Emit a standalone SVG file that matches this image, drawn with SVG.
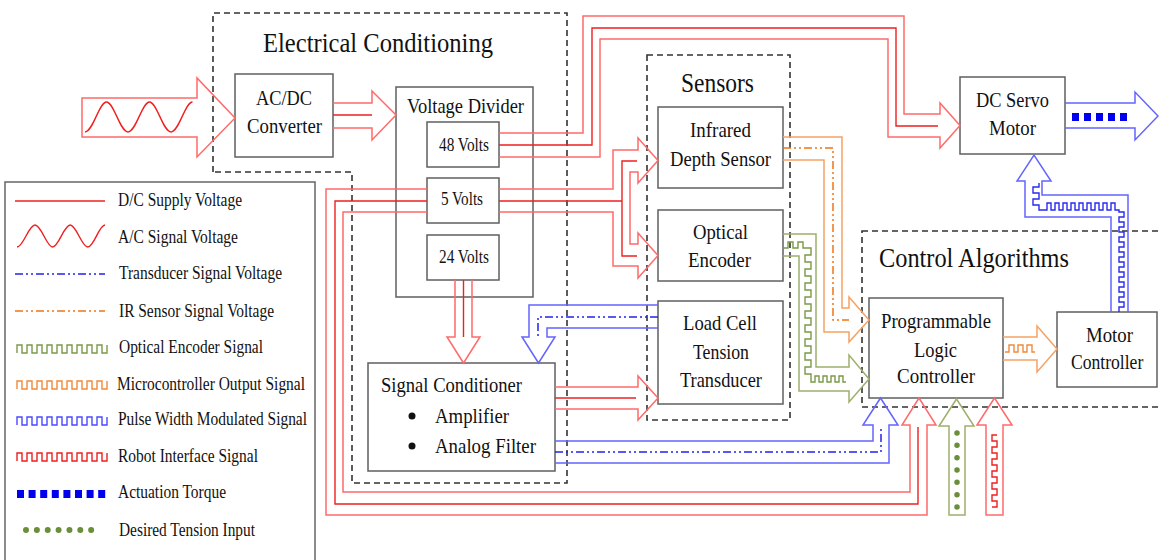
<svg xmlns="http://www.w3.org/2000/svg" xmlns:xlink="http://www.w3.org/1999/xlink" width="1159" height="560" viewBox="0 0 1159 560">
<style>
.box{fill:#fff;stroke:#5f5f5f;stroke-width:1.5}
.dash{fill:none;stroke:#333;stroke-width:1.6;stroke-dasharray:6 4}
.t{font-family:"Liberation Serif","Times New Roman",serif;fill:#111}
.n{font-size:22px}
.v{font-size:19px}
.h{font-size:28px}
.l{font-size:18.5px}
.ro{fill:none;stroke:#ff6a6a;stroke-width:1.5}
.ri{fill:none;stroke:#ee2020;stroke-width:1.4}
.oo{fill:none;stroke:#f5a263;stroke-width:1.5}
.od{fill:none;stroke:#ef7417;stroke-width:1.5;stroke-dasharray:8 3 2 3 2 3}
.oi{fill:none;stroke:#ef8a3a;stroke-width:1.4}
.go{fill:none;stroke:#9db06d;stroke-width:1.5}
.gi{fill:none;stroke:#7a9a48;stroke-width:1.4}
.bo{fill:none;stroke:#6464ff;stroke-width:1.5}
.bi{fill:none;stroke:#2a2af0;stroke-width:1.4}
.bd{fill:none;stroke:#2323ee;stroke-width:1.5;stroke-dasharray:8 3 2 3 2 3}
</style>
<defs>
<path id="sq" fill="none" stroke-width="1.4" d="M0,8 V0 H5 V8 H10 V0 H15 V8 H20 V0 H25 V8 H30 V0 H35 V8 H40 V0 H45 V8 H50 V0 H55 V8 H60 V0 H65 V8 H70 V0 H75 V8 H80 V0 H85 V8 H90 V0"/>
</defs>
<rect width="1159" height="560" fill="#fff"/>

<g id="containers">
<path class="dash" d="M213,172 V13 H567 V483 H352 V172 Z"/>
<text class="t h" x="263" y="52" textLength="230" lengthAdjust="spacingAndGlyphs">Electrical Conditioning</text>
<rect class="dash" x="647" y="55" width="143" height="365"/>
<text class="t" font-size="27" x="681" y="92" textLength="73" lengthAdjust="spacingAndGlyphs">Sensors</text>
<rect class="dash" x="862" y="231" width="320" height="176"/>
<text class="t h" x="879" y="267" textLength="190" lengthAdjust="spacingAndGlyphs">Control Algorithms</text>
</g>

<g id="ac-dc-converter">
<rect class="box" x="235" y="74" width="98" height="83"/>
<text class="t n" x="256" y="105" textLength="56" lengthAdjust="spacingAndGlyphs">AC/DC</text>
<text class="t n" x="247" y="133" textLength="75" lengthAdjust="spacingAndGlyphs">Converter</text>
</g>
<g id="voltage-divider">
<rect class="box" x="396" y="87" width="137" height="210"/>
<text class="t n" x="407" y="113" textLength="117" lengthAdjust="spacingAndGlyphs">Voltage Divider</text>
</g>
<g id="v48">
<rect class="box" x="427" y="122" width="72" height="45"/>
<text class="t v" x="439" y="151" textLength="50" lengthAdjust="spacingAndGlyphs">48 Volts</text>
</g>
<g id="v5">
<rect class="box" x="427" y="178" width="72" height="45"/>
<text class="t v" x="441" y="205" textLength="42" lengthAdjust="spacingAndGlyphs">5 Volts</text>
</g>
<g id="v24">
<rect class="box" x="427" y="235" width="72" height="45"/>
<text class="t v" x="439" y="263" textLength="50" lengthAdjust="spacingAndGlyphs">24 Volts</text>
</g>
<g id="signal-conditioner">
<rect class="box" x="368" y="363" width="187" height="108"/>
<text class="t n" x="381" y="392" textLength="141" lengthAdjust="spacingAndGlyphs">Signal Conditioner</text>
<circle cx="412" cy="416" r="3.5" fill="#111"/>
<circle cx="412" cy="446" r="3.5" fill="#111"/>
<text class="t n" x="435" y="423" textLength="74" lengthAdjust="spacingAndGlyphs">Amplifier</text>
<text class="t n" x="435" y="453" textLength="101" lengthAdjust="spacingAndGlyphs">Analog Filter</text>
</g>
<g id="infrared-depth-sensor">
<rect class="box" x="658" y="107" width="125" height="81"/>
<text class="t n" x="690" y="137" textLength="61" lengthAdjust="spacingAndGlyphs">Infrared</text>
<text class="t n" x="670" y="166" textLength="101" lengthAdjust="spacingAndGlyphs">Depth Sensor</text>
</g>
<g id="optical-encoder">
<rect class="box" x="658" y="210" width="125" height="71"/>
<text class="t n" x="693" y="239" textLength="55" lengthAdjust="spacingAndGlyphs">Optical</text>
<text class="t n" x="688" y="267" textLength="63" lengthAdjust="spacingAndGlyphs">Encoder</text>
</g>
<g id="load-cell">
<rect class="box" x="658" y="301" width="125" height="103"/>
<text class="t n" x="683" y="330" textLength="74" lengthAdjust="spacingAndGlyphs">Load Cell</text>
<text class="t n" x="693" y="359" textLength="56" lengthAdjust="spacingAndGlyphs">Tension</text>
<text class="t n" x="680" y="387" textLength="82" lengthAdjust="spacingAndGlyphs">Transducer</text>
</g>
<g id="dc-servo-motor">
<rect class="box" x="960" y="77" width="105" height="77"/>
<text class="t n" x="976" y="107" textLength="73" lengthAdjust="spacingAndGlyphs">DC Servo</text>
<text class="t n" x="989" y="135" textLength="47" lengthAdjust="spacingAndGlyphs">Motor</text>
</g>
<g id="plc">
<rect class="box" x="869" y="298" width="134" height="100"/>
<text class="t n" x="881" y="328" textLength="110" lengthAdjust="spacingAndGlyphs">Programmable</text>
<text class="t n" x="914" y="357" textLength="43" lengthAdjust="spacingAndGlyphs">Logic</text>
<text class="t n" x="897" y="383" textLength="78" lengthAdjust="spacingAndGlyphs">Controller</text>
</g>
<g id="motor-controller">
<rect class="box" x="1057" y="312" width="100" height="75"/>
<text class="t n" x="1086" y="342" textLength="47" lengthAdjust="spacingAndGlyphs">Motor</text>
<text class="t n" transform="translate(1071 369) scale(0.8 1)">Controller</text>
</g>

<g id="legend">
<rect x="5" y="182" width="310" height="390" fill="#fff" stroke="#666" stroke-width="1.5"/>
<path class="ri" d="M15,201 H105"/>
<path class="ri" d="M17,247 C23.4,247 28.6,225 35,225 S46.6,247 52.6,247 S64,225 70.2,225 S81.6,247 87.8,247 S99,225 105,225"/>
<path class="bd" d="M15,274 H105"/>
<path class="od" d="M15,311 H105"/>
<use xlink:href="#sq" x="17" y="345" stroke="#7a9a48"/>
<use xlink:href="#sq" x="17" y="381" stroke="#ef8a3a"/>
<use xlink:href="#sq" x="17" y="417" stroke="#4a4aff"/>
<use xlink:href="#sq" x="17" y="453" stroke="#ee2020"/>
<path d="M17,494 H107" stroke="#0000ee" stroke-width="8" stroke-dasharray="7 4.6" fill="none"/>
<path d="M26,530 H102" stroke="#6b8e3a" stroke-width="6" stroke-linecap="round" stroke-dasharray="0 10.86" fill="none"/>
<text class="t l" x="118" y="206" textLength="124" lengthAdjust="spacingAndGlyphs">D/C Supply Voltage</text>
<text class="t l" x="118" y="243" textLength="120" lengthAdjust="spacingAndGlyphs">A/C Signal Voltage</text>
<text class="t l" x="119" y="279" textLength="163" lengthAdjust="spacingAndGlyphs">Transducer Signal Voltage</text>
<text class="t l" x="119" y="317" textLength="155" lengthAdjust="spacingAndGlyphs">IR Sensor Signal Voltage</text>
<text class="t l" x="119" y="353" textLength="144" lengthAdjust="spacingAndGlyphs">Optical Encoder Signal</text>
<text class="t l" x="117" y="390" textLength="188" lengthAdjust="spacingAndGlyphs">Microcontroller Output Signal</text>
<text class="t l" x="118" y="425" textLength="189" lengthAdjust="spacingAndGlyphs">Pulse Width Modulated Signal</text>
<text class="t l" x="118" y="462" textLength="140" lengthAdjust="spacingAndGlyphs">Robot Interface Signal</text>
<text class="t l" x="118" y="498" textLength="108" lengthAdjust="spacingAndGlyphs">Actuation Torque</text>
<text class="t l" x="119" y="536" textLength="136" lengthAdjust="spacingAndGlyphs">Desired Tension Input</text>
</g>

<g id="connectors">
<!-- AC input -->
<path class="ro" d="M82,98 H197 V78 L235,118 L197,157 V137 H82 Z"/>
<path class="ri" d="M85,132 C93,132 99,102 106.5,102 S120,132 128,132 S142,102 149.5,102 S163,132 171,132 S185,102 192.5,102"/>
<!-- AC/DC to Voltage Divider -->
<path class="ro" d="M333,103 H372 V91 L396,115 L372,140 V128 H333"/>
<path class="ri" d="M333,115 H372"/>
<!-- 48V to DC Servo -->
<path class="ro" d="M499,133 H583 V16 H904 V114 H940 V103 L960,125.5 L940,148 V137 H888 V39 H600 V157 H499"/>
<path class="ri" d="M499,145 H592 V28 H896 V126 H938"/>
<!-- 5V to sensors -->
<path class="ro" d="M499,189 H613 V150 H638 V138 L658,160.5 L638,183 V172 H630 V244 H638 V233 L658,255.5 L638,278 V266 H613 V212 H499"/>
<path class="ri" d="M499,201 H622 M637,161 H622 V256 H637"/>
<!-- 5V loop to PLC -->
<path class="ro" d="M427,189 H326 V515 H927 V425 H936 L919,398 L902,425 H910 V492 H343 V212 H427"/>
<path class="ri" d="M427,201 H335 V504 H918 V427"/>
<!-- 24V to Signal Conditioner -->
<path class="ro" d="M455,280 V337 H447 L463.5,363 L480,337 H472 V280"/>
<path class="ri" d="M463.5,280 V337"/>
<!-- Load cell to Signal Conditioner -->
<path class="bo" d="M658,305 H529 V337 H522 L538.5,363 L555,337 H547 V328 H658"/>
<path class="bd" d="M658,317 H538 V337"/>
<!-- Signal Conditioner to Load Cell -->
<path class="ro" d="M555,387 H638 V376 L658,398 L638,420 V409 H555"/>
<path class="ri" d="M555,398 H636"/>
<!-- Signal Conditioner to PLC -->
<path class="bo" d="M555,441 H873 V425 H863 L880.5,398 L898,425 H889 V463 H555"/>
<path class="bd" d="M555,452 H881 V427"/>
<!-- IR to PLC -->
<path class="oo" d="M783,137 H842 V308 H849 V297 L869,320 L849,342 V332 H824 V160 H783"/>
<path class="od" d="M783,148 H833 V320 H849"/>
<!-- Optical encoder to PLC -->
<path class="go" d="M783,234 H816 V367 H849 V355 L869,379 L849,402 V391 H799 V256 H783"/>
<path class="gi" d="M783,248 H788 V242 H793 V248 H798 V242 H803 V248 H811 V255 H805 V262 H811 V269 H805 V276 H811 V283 H805 V290 H811 V297 H805 V304 H811 V311 H805 V318 H811 V325 H805 V332 H811 V339 H805 V346 H811 V353 H805 V360 H811 V367 H805 V374 H811 V382 H815 V376 H819 V382 H823 V376 H827 V382 H831 V376 H835 V382 H839 V376 H843 V382 H846"/>
<!-- PLC to Motor Controller -->
<path class="oo" d="M1003,337 H1037 V326 L1057,349 L1037,372 V360 H1003"/>
<path class="oi" d="M1005,352 H1009 V345 H1014 V352 H1018 V345 H1023 V352 H1027 V345 H1032 V352 H1035"/>
<!-- Motor Controller to DC Servo -->
<path class="bo" d="M1111,312 V217 H1025 V181 H1017 L1034,155 L1051,181 H1042 V195 H1128 V312"/>
<path class="bi" d="M1119,312 V307 H1124 V302 H1119 V297 H1124 V292 H1119 V287 H1124 V282 H1119 V277 H1124 V272 H1119 V267 H1124 V262 H1119 V257 H1124 V252 H1119 V247 H1124 V242 H1119 V237 H1124 V232 H1119 V227 H1124 V222 H1119 V217 H1124 V212 H1119 V210 H1115 V203 H1111 V210 H1107 V203 H1103 V210 H1099 V203 H1095 V210 H1091 V203 H1087 V210 H1083 V203 H1079 V210 H1075 V203 H1071 V210 H1067 V203 H1063 V210 H1059 V203 H1055 V210 H1051 V203 H1047 V210 H1039 V205 H1033 V199 H1039 V193 H1033 V187 H1039 V183"/>
<!-- DC Servo output torque -->
<path class="bo" d="M1065,103 H1135 V92 L1158,116 L1135,140 V128 H1065"/>
<path d="M1072,117 H1128" stroke="#0000ee" stroke-width="8" stroke-dasharray="7 5" fill="none"/>
<!-- Desired tension input -->
<path class="go" d="M949,515 V426 H939 L956.5,399 L974,426 H965 V515 Z"/>
<path d="M957,433 V507" stroke="#6b8e3a" stroke-width="5.5" stroke-linecap="round" stroke-dasharray="0 12.33" fill="none"/>
<!-- Robot interface input -->
<path class="ro" d="M986,515 V425 H977 L994.5,398 L1012,425 H1003 V515 Z"/>
<path class="ri" d="M997,435 H992 V441 H997 V447 H992 V453 H997 V459 H992 V465 H997 V471 H992 V477 H997 V483 H992 V489 H997 V495 H992 V501 H997 V507 H992"/>
</g>
</svg>
